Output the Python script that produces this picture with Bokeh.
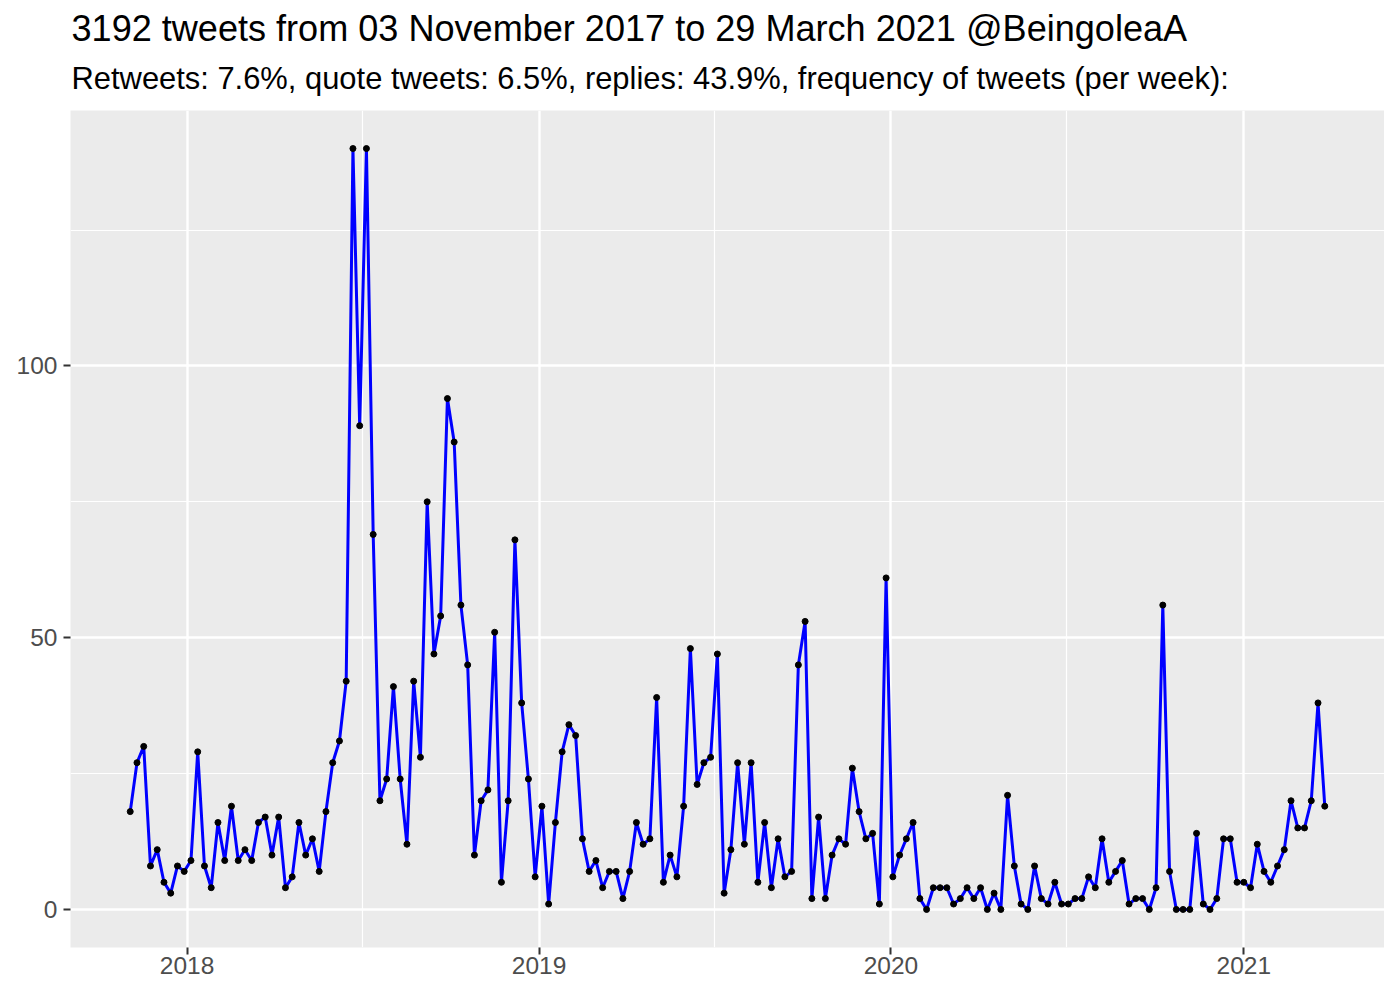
from datetime import datetime, timedelta

from bokeh.plotting import figure
from bokeh.models import (Range1d, FixedTicker, DatetimeTickFormatter, Title,
                          ColumnDataSource)
from bokeh.embed import file_html
from bokeh.resources import INLINE

# ---------------- data ----------------
title_text = "3192 tweets from 03 November 2017 to 29 March 2021 @BeingoleaA"
subtitle_text = ("Retweets: 7.6%, quote tweets: 6.5%, replies: 43.9%, "
                 "frequency of tweets (per week):")

first_week = "2017-11-03"          # first weekly bin
tweets_per_week = [
    18, 27, 30, 8, 11, 5, 3, 8, 7, 9, 29, 8, 4, 16, 9, 19, 9, 11, 9, 16,
    17, 10, 17, 4, 6, 16, 10, 13, 7, 18, 27, 31, 42, 140, 89, 140, 69, 20, 24, 41,
    24, 12, 42, 28, 75, 47, 54, 94, 86, 56, 45, 10, 20, 22, 51, 5, 20, 68, 38, 24,
    6, 19, 1, 16, 29, 34, 32, 13, 7, 9, 4, 7, 7, 2, 7, 16, 12, 13, 39, 5,
    10, 6, 19, 48, 23, 27, 28, 47, 3, 11, 27, 12, 27, 5, 16, 4, 13, 6, 7, 45,
    53, 2, 17, 2, 10, 13, 12, 26, 18, 13, 14, 1, 61, 6, 10, 13, 16, 2, 0, 4,
    4, 4, 1, 2, 4, 2, 4, 0, 3, 0, 21, 8, 1, 0, 8, 2, 1, 5, 1, 1,
    2, 2, 6, 4, 13, 5, 7, 9, 1, 2, 2, 0, 4, 56, 7, 0, 0, 0, 14, 1,
    0, 2, 13, 13, 5, 5, 4, 12, 7, 5, 8, 11, 20, 15, 15, 20, 38, 19,
]

x_tick_dates = ["2018-01-01", "2019-01-01", "2020-01-01", "2021-01-01"]
x_minor_dates = ["2018-07-02", "2019-07-02", "2020-07-01"]
y_ticks = [0, 50, 100]
y_minor_ticks = [25, 75, 125]

# ---------------- helpers ----------------
EPOCH = datetime(1970, 1, 1)


def to_dt(s):
    return datetime.strptime(s, "%Y-%m-%d")


def to_ms(d):
    return (d - EPOCH).total_seconds() * 1000.0


start = to_dt(first_week)
weeks = [start + timedelta(weeks=i) for i in range(len(tweets_per_week))]
src = ColumnDataSource(dict(week=weeks, n=tweets_per_week))

x0, x1 = to_ms(weeks[0]), to_ms(weeks[-1])
xpad = (x1 - x0) * 0.05
ymin, ymax = 0, max(tweets_per_week)
ypad = (ymax - ymin) * 0.05

FONT = "Liberation Sans"

p = figure(width=1384, height=984, x_axis_type="datetime",
           output_backend="svg", toolbar_location=None,
           x_range=Range1d(x0 - xpad, x1 + xpad),
           y_range=Range1d(ymin - ypad, ymax + ypad),
           min_border_left=70, min_border_right=0,
           min_border_bottom=37, min_border_top=110,
           background_fill_color="#EBEBEB", border_fill_color="white",
           outline_line_color=None)
p.title = None

sub = Title(text=subtitle_text, align="left", text_font=FONT,
            text_font_size="30.9px", text_font_style="normal",
            text_color="black", standoff=30, offset=1)
main = Title(text=title_text, align="left", text_font=FONT,
             text_font_size="36.1px", text_font_style="normal",
             text_color="black", standoff=-11, offset=1)
p.add_layout(sub, "above")
p.add_layout(main, "above")

# grid
for g in (p.xgrid, p.ygrid):
    g.grid_line_color = "white"
    g.grid_line_width = 2.4
    g.minor_grid_line_color = "white"
    g.minor_grid_line_width = 1.2

# x axis
p.xaxis.ticker = FixedTicker(ticks=[to_ms(to_dt(d)) for d in x_tick_dates],
                             minor_ticks=[to_ms(to_dt(d)) for d in x_minor_dates])
p.xaxis.formatter = DatetimeTickFormatter(
    microseconds="%Y", milliseconds="%Y", seconds="%Y", minsec="%Y",
    minutes="%Y", hourmin="%Y", hours="%Y", days="%Y", months="%Y",
    years="%Y")
# y axis
p.yaxis.ticker = FixedTicker(ticks=y_ticks, minor_ticks=y_minor_ticks)

for ax in (p.xaxis, p.yaxis):
    ax.axis_line_color = None
    ax.major_tick_line_color = "#333333"
    ax.major_tick_line_width = 2
    ax.major_tick_out = 7
    ax.major_tick_in = 0
    ax.minor_tick_line_color = None
    ax.major_label_text_font = FONT
    ax.major_label_text_font_size = "24.5px"
    ax.major_label_text_color = "#4D4D4D"
p.xaxis.major_label_standoff = 2
p.yaxis.major_label_standoff = 6

p.line("week", "n", source=src, line_color="blue", line_width=3)
p.scatter("week", "n", source=src, size=6, fill_color="black",
          line_color="black")

open("out.html", "w").write(file_html(p, INLINE))
